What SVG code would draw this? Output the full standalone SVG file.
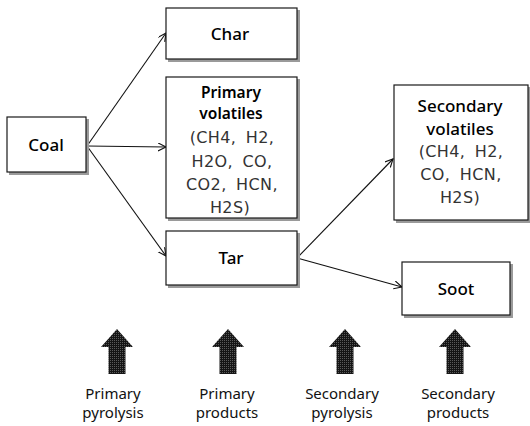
<svg xmlns="http://www.w3.org/2000/svg" width="530" height="426" viewBox="0 0 530 426">
<style>
.box{fill:#fff;stroke:#1a1a1a;stroke-width:1.2}
.sh{fill:#9a9a9a}
.name{font-family:"Noto Sans","Noto Sans CJK KR",sans-serif;font-size:17px;font-weight:500;fill:#000;text-anchor:middle}
.bold{font-family:"Noto Sans","Noto Sans CJK KR",sans-serif;font-size:15.5px;font-weight:600;fill:#000;text-anchor:middle}
.f{font-family:"DejaVu Sans","Noto Sans CJK KR",sans-serif;font-size:16px;letter-spacing:0.4px;word-spacing:4px;fill:#333;text-anchor:middle}
.lab{font-family:"Noto Sans","Noto Sans CJK KR",sans-serif;font-size:15px;fill:#111;text-anchor:middle}
.con{stroke:#111;stroke-width:1.1;fill:none;marker-end:url(#ah)}
.big{fill:url(#tex)}
</style>
<defs>
<marker id="ah" markerWidth="10" markerHeight="10" refX="8" refY="4" orient="auto" markerUnits="userSpaceOnUse">
<path d="M0,0 L8,4 L0,8" fill="none" stroke="#111" stroke-width="1.1"/>
</marker>
<pattern id="tex" width="2" height="2" patternUnits="userSpaceOnUse">
<rect width="2" height="2" fill="#151515"/>
<rect width="1" height="1" fill="#5a5a5a"/>
</pattern>
</defs>
<g id="connectors">
<line class="con" x1="87" y1="146" x2="166" y2="33"/>
<line class="con" x1="87" y1="146" x2="166" y2="147"/>
<line class="con" x1="87" y1="146" x2="166" y2="256"/>
<line class="con" x1="297" y1="258" x2="393" y2="159"/>
<line class="con" x1="297" y1="258" x2="402" y2="287"/>
</g>
<g id="coal">
<rect class="sh" x="9" y="119" width="80" height="56"/>
<rect class="box" x="7" y="117" width="79" height="55"/>
<text class="name" x="46" y="151">Coal</text>
</g>
<g id="char">
<rect class="sh" x="168" y="10" width="132" height="52"/>
<rect class="box" x="166" y="8" width="131" height="51"/>
<text class="name" x="230" y="40">Char</text>
</g>
<g id="primary-volatiles">
<rect class="sh" x="168" y="79" width="132" height="142"/>
<rect class="box" x="166" y="77" width="131" height="141"/>
<text class="bold" x="231" y="97.5">Primary</text>
<text class="bold" x="231" y="119">volatiles</text>
<text class="f" x="232" y="143">(CH4, H2,</text>
<text class="f" x="232" y="167">H2O, CO,</text>
<text class="f" x="232" y="190">CO2, HCN,</text>
<text class="f" x="230" y="213">H2S)</text>
</g>
<g id="tar">
<rect class="sh" x="168" y="233" width="132" height="55"/>
<rect class="box" x="166" y="231" width="131" height="54"/>
<text class="name" x="231" y="264">Tar</text>
</g>
<g id="secondary-volatiles">
<rect class="sh" x="396" y="87" width="134" height="136"/>
<rect class="box" x="394" y="85" width="134" height="135"/>
<text class="name" x="460" y="112">Secondary</text>
<text class="name" x="460" y="135">volatiles</text>
<text class="f" x="461" y="157">(CH4, H2,</text>
<text class="f" x="461" y="180">CO, HCN,</text>
<text class="f" x="460" y="203">H2S)</text>
</g>
<g id="soot">
<rect class="sh" x="404" y="264" width="109" height="54"/>
<rect class="box" x="402" y="262" width="108" height="53"/>
<text class="name" x="456" y="295">Soot</text>
</g>
<g id="stage-primary-pyrolysis">
<path class="big" d="M117,329 L133,347 L125.5,347 L125.5,374 L108.5,374 L108.5,347 L101,347 Z"/>
<text class="lab" x="113" y="399">Primary</text>
<text class="lab" x="113" y="418">pyrolysis</text>
</g>
<g id="stage-primary-products">
<path class="big" d="M228,329 L244,347 L236.5,347 L236.5,374 L219.5,374 L219.5,347 L212,347 Z"/>
<text class="lab" x="227" y="399">Primary</text>
<text class="lab" x="227" y="418">products</text>
</g>
<g id="stage-secondary-pyrolysis">
<path class="big" d="M345,329 L361,347 L353.5,347 L353.5,374 L336.5,374 L336.5,347 L329,347 Z"/>
<text class="lab" x="342" y="399">Secondary</text>
<text class="lab" x="342" y="418">pyrolysis</text>
</g>
<g id="stage-secondary-products">
<path class="big" d="M455,329 L471,347 L463.5,347 L463.5,374 L446.5,374 L446.5,347 L439,347 Z"/>
<text class="lab" x="458" y="399">Secondary</text>
<text class="lab" x="458" y="418">products</text>
</g>
</svg>
